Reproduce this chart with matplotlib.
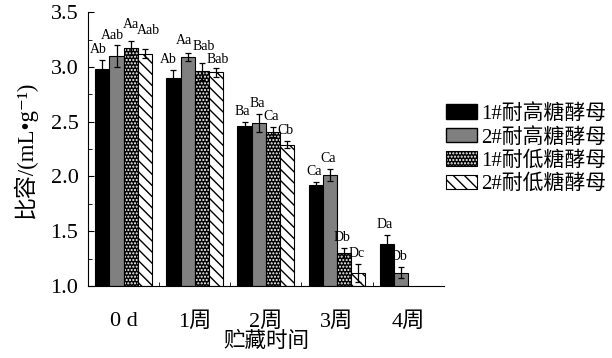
import matplotlib
matplotlib.use("Agg")
import matplotlib.pyplot as plt
import numpy as np
from matplotlib.patches import Patch
from matplotlib.legend_handler import HandlerTuple

plt.rcParams['font.family'] = ['Liberation Serif', 'Noto Sans CJK SC', 'DejaVu Sans']
plt.rcParams['hatch.linewidth'] = 1.0

groups = ['0 d', '1周', '2周', '3周', '4周']
series = ['1#耐高糖酵母', '2#耐高糖酵母', '1#耐低糖酵母', '2#耐低糖酵母']

# NaN = no bar for that week
hi1 = [2.98, 2.90, 2.46, 1.92, 1.38]
hi2 = [3.10, 3.09, 2.49, 2.01, 1.12]
lo1 = [3.17, 2.96, 2.41, 1.30, np.nan]
lo2 = [3.12, 2.95, 2.29, 1.12, np.nan]

hi1_err = [0.08, 0.07, 0.035, 0.03, 0.09]
hi2_err = [0.10, 0.04, 0.08, 0.055, 0.05]
lo1_err = [0.065, 0.075, 0.045, 0.045, np.nan]
lo2_err = [0.04, 0.04, 0.03, 0.08, np.nan]

hi1_lab = ['Ab', 'Ab', 'Ba', 'Ca', 'Da']
hi2_lab = ['Aab', 'Aa', 'Ba', 'Ca', 'Db']
lo1_lab = ['Aa', 'Bab', 'Ca', 'Db', '']
lo2_lab = ['Aab', 'Bab', 'Cb', 'Dc', '']

values = [hi1, hi2, lo1, lo2]
errors = [hi1_err, hi2_err, lo1_err, lo2_err]
labels = [hi1_lab, hi2_lab, lo1_lab, lo2_lab]

# hand nudges (pixels) for letters that would collide with a neighbour
nudge = {(0, 0): (-4, 4), (1, 0): (-4, 3), (2, 0): (0, 10), (3, 0): (3, 12),
         (0, 1): (-5, 4), (1, 1): (-4, 6), (2, 1): (2, 10), (3, 1): (2, 2)}

fig = plt.figure(figsize=(6.12, 3.58), dpi=100)
ax = fig.add_axes([0.144, 0.201, 0.581, 0.765])

x = np.arange(len(groups))
w = 0.2
handles = []
for i in range(4):
    pos = x + (i - 1.5) * w
    v = np.array(values[i])
    e = np.array(errors[i])
    ok = ~np.isnan(v)
    h = v[ok] - 1.0
    if i == 0:
        ax.bar(pos[ok], h, w, bottom=1.0, color='black', edgecolor='black', lw=0.8)
        handles.append(Patch(facecolor='black', edgecolor='black'))
    elif i == 1:
        ax.bar(pos[ok], h, w, bottom=1.0, color='#808080', edgecolor='black', lw=0.8)
        handles.append(Patch(facecolor='#808080', edgecolor='black'))
    elif i == 2:
        ax.bar(pos[ok], h, w, bottom=1.0, color='black', edgecolor='white', lw=0, hatch='.....')
        ax.bar(pos[ok], h, w, bottom=1.0, fill=False, edgecolor='black', lw=0.8)
        handles.append((Patch(facecolor='black', edgecolor='white', lw=0, hatch='.....'),
                        Patch(fill=False, edgecolor='black', lw=0.8)))
    else:
        ax.bar(pos[ok], h, w, bottom=1.0, color='white', edgecolor='black', lw=0.8, hatch='\\\\\\')
        handles.append(Patch(facecolor='white', edgecolor='black', lw=0.8, hatch='\\\\\\'))
    ax.errorbar(pos[ok], v[ok], yerr=e[ok], fmt='none', ecolor='black', elinewidth=0.9, capsize=2.5, capthick=0.9)
    for j in np.where(ok)[0]:
        dx, dy = nudge.get((i, j), (-2, 4))
        ax.annotate(labels[i][j], (pos[j], v[j] + e[j]), xytext=(dx, dy),
                    textcoords='offset pixels', ha='center', va='bottom', fontsize=10)

ax.set_xlim(-0.5, 4.5)
ax.set_ylim(1.0, 3.5)
ax.set_yticks(np.arange(1.0, 3.51, 0.5))
ax.set_yticks(np.arange(1.25, 3.5, 0.5), minor=True)
ax.set_yticklabels([f'{t:.1f}' for t in np.arange(1.0, 3.51, 0.5)])
ax.set_xticks(x)
ax.set_xticklabels(groups)
ax.set_xticks(np.arange(0.5, 4.0, 1.0), minor=True)
ax.tick_params(axis='x', which='major', length=0, labelsize=16, pad=19)
ax.tick_params(axis='x', which='minor', direction='in', length=3)
ax.tick_params(axis='y', which='both', direction='in', labelsize=16, pad=7)
ax.tick_params(axis='y', which='major', length=4)
ax.tick_params(axis='y', which='minor', length=3)
for s in ['top', 'right']:
    ax.spines[s].set_visible(False)

ax.set_ylabel('比容/(mL•g⁻¹)', fontsize=16.5, labelpad=10)
ax.set_xlabel('贮藏时间', fontsize=15.5, labelpad=0)

fig.legend(handles, series, handler_map={tuple: HandlerTuple(ndivide=1, pad=0)},
           loc='upper left', bbox_to_anchor=(0.705, 0.75), frameon=False,
           fontsize=15, handlelength=1.5, handleheight=0.7, labelspacing=0.18,
           handletextpad=0.2, borderpad=0.2)

fig.savefig('out.png', dpi=100)
